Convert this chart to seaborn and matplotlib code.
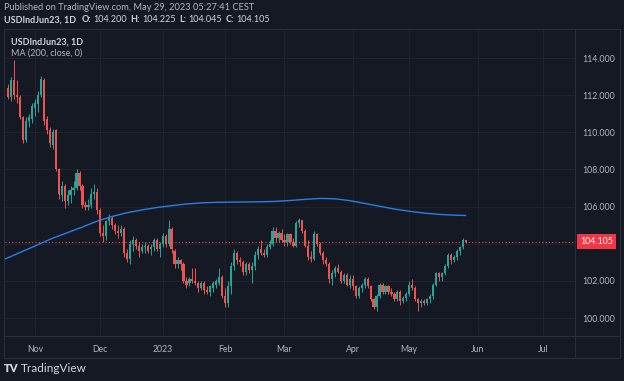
import numpy as np
import pandas as pd
import matplotlib
matplotlib.use("Agg")
import matplotlib.pyplot as plt
from matplotlib.lines import Line2D
import seaborn as sns

# USDIndJun23 daily candles, 19 Oct 2022 .. 26 May 2023
opens = [112.4, 111.9, 112.8, 112.0, 111.9, 110.8, 109.6, 110.6, 110.7, 111.3,
         111.5, 112.0, 112.8, 110.7, 110.1, 109.3, 110.1, 108.0, 106.6, 107.1,
         106.3, 106.6, 106.9, 107.0, 107.8, 107.1, 106.1, 106.0, 106.1, 106.7,
         106.8, 105.8, 104.6, 104.4, 105.2, 105.4, 105.0, 104.7, 104.6, 104.8,
         103.5, 103.2, 104.0, 104.2, 103.9, 103.6, 103.8, 103.9, 103.7, 103.8,
         104.2, 103.7, 104.0, 104.4, 104.0, 104.8, 103.6, 102.9, 103.1, 102.9,
         102.0, 101.9, 102.1, 102.0, 101.9, 101.6, 101.9, 101.5, 101.4, 101.6,
         101.8, 101.9, 102.2, 101.2, 100.8, 101.7, 102.8, 103.5, 103.1, 103.0,
         102.5, 102.9, 102.6, 102.8, 103.4, 103.7, 103.5, 103.4, 103.8, 104.0,
         104.7, 104.3, 104.6, 104.2, 104.1, 104.5, 104.1, 103.9, 105.1, 105.3,
         104.7, 103.9, 103.3, 103.2, 104.5, 104.0, 103.5, 103.1, 102.9, 102.1,
         102.4, 102.7, 102.5, 102.0, 102.3, 101.8, 102.1, 101.7, 101.2, 101.6,
         101.8, 102.1, 101.7, 101.0, 100.6, 101.2, 101.8, 101.4, 101.7, 101.4,
         101.3, 101.0, 101.4, 100.9, 101.1, 101.3, 101.8, 101.6, 101.0, 100.8,
         100.9, 100.8, 101.0, 101.2, 101.8, 102.4, 102.2, 102.4, 102.8, 103.4,
         103.1, 103.3, 103.6, 103.8, 104.2]
highs = [112.6, 113.0, 113.9, 112.8, 112.0, 110.9, 110.8, 111.0, 111.6, 111.8,
         112.2, 113.05, 112.9, 110.9, 110.3, 110.2, 110.2, 108.1, 107.4, 107.2,
         106.9, 107.1, 107.4, 108.0, 107.9, 107.2, 106.3, 106.4, 107.0, 107.2,
         107.0, 105.9, 105.0, 105.3, 105.6, 105.5, 105.1, 105.0, 105.0, 104.9,
         103.7, 104.2, 104.4, 104.3, 104.1, 104.0, 104.1, 104.0, 104.0, 104.3,
         104.3, 104.1, 104.6, 104.5, 105.3, 104.9, 103.7, 103.3, 103.2, 103.0,
         102.2, 102.2, 102.7, 102.7, 102.0, 102.0, 102.0, 101.7, 101.8, 102.0,
         102.1, 102.7, 102.3, 101.6, 102.0, 103.0, 103.7, 103.6, 103.3, 103.1,
         103.0, 103.0, 103.0, 103.6, 103.9, 104.2, 103.7, 104.0, 104.2, 104.9,
         104.9, 104.7, 104.8, 104.5, 104.6, 104.6, 104.3, 105.2, 105.4, 105.3,
         104.8, 104.2, 103.6, 104.7, 104.6, 104.1, 103.6, 103.3, 103.0, 102.6,
         102.8, 102.9, 102.6, 102.4, 102.4, 102.3, 102.3, 101.8, 101.7, 101.9,
         102.2, 102.2, 101.8, 101.1, 101.3, 101.9, 101.9, 101.8, 101.8, 101.6,
         101.4, 101.5, 101.5, 101.2, 101.4, 102.0, 102.1, 101.7, 101.1, 101.0,
         101.0, 101.1, 101.3, 101.9, 102.5, 102.5, 102.5, 102.9, 103.5, 103.5,
         103.4, 103.7, 103.9, 104.3, 104.225]
lows = [111.8, 111.7, 111.8, 111.6, 110.7, 109.4, 109.5, 110.3, 110.5, 110.9,
        111.1, 111.9, 110.4, 109.9, 109.2, 109.1, 107.9, 106.4, 106.3, 105.9,
        106.1, 106.2, 106.6, 106.9, 106.9, 105.9, 105.8, 105.8, 105.9, 106.4,
        105.6, 104.4, 104.1, 104.2, 105.0, 104.8, 104.5, 104.3, 104.4, 103.3,
        103.0, 102.9, 103.6, 103.7, 103.3, 103.5, 103.5, 103.5, 103.4, 103.6,
        103.6, 103.3, 103.8, 103.8, 103.9, 103.5, 102.7, 102.7, 102.6, 101.9,
        101.6, 101.7, 101.9, 101.8, 101.4, 101.5, 101.3, 101.3, 101.2, 101.4,
        101.6, 101.8, 101.1, 100.6, 100.6, 101.3, 102.6, 102.9, 102.8, 102.3,
        102.3, 102.4, 101.9, 102.6, 103.2, 103.4, 103.3, 103.3, 103.7, 103.9,
        104.1, 104.1, 104.1, 103.9, 103.9, 104.0, 103.8, 103.8, 104.9, 104.6,
        103.8, 103.1, 103.0, 103.1, 103.9, 103.4, 102.9, 102.8, 101.9, 101.8,
        102.2, 102.4, 101.9, 101.9, 101.7, 101.6, 101.5, 101.1, 101.1, 101.4,
        101.6, 101.6, 100.9, 100.5, 100.4, 101.1, 101.3, 101.3, 101.3, 101.2,
        100.9, 100.9, 100.7, 100.8, 100.9, 101.2, 101.5, 100.9, 100.4, 100.6,
        100.7, 100.7, 100.8, 101.0, 101.7, 102.0, 102.0, 102.3, 102.7, 102.9,
        103.0, 103.1, 103.4, 103.7, 104.045]
closes = [111.9, 112.8, 112.0, 111.9, 110.8, 109.6, 110.6, 110.8, 111.4, 111.6,
          112.0, 112.85, 110.6, 110.1, 109.4, 110.0, 108.05, 106.7, 107.1, 106.3,
          106.6, 106.9, 107.0, 107.8, 107.1, 106.1, 106.0, 106.1, 106.7, 106.8,
          105.8, 104.6, 104.4, 105.2, 105.4, 105.0, 104.7, 104.6, 104.8, 103.5,
          103.2, 104.0, 104.2, 103.9, 103.6, 103.8, 103.9, 103.6, 103.8, 104.2,
          103.7, 104.0, 104.4, 104.0, 104.8, 103.7, 102.9, 103.1, 102.9, 102.0,
          101.8, 102.1, 102.0, 101.9, 101.6, 101.9, 101.5, 101.4, 101.7, 101.9,
          102.0, 102.2, 101.2, 100.8, 101.7, 102.8, 103.5, 103.1, 103.0, 102.5,
          102.9, 102.6, 102.8, 103.4, 103.7, 103.5, 103.4, 103.8, 104.0, 104.7,
          104.3, 104.6, 104.2, 104.1, 104.5, 104.1, 103.9, 105.1, 105.3, 104.7,
          103.9, 103.3, 103.2, 104.5, 104.0, 103.5, 103.1, 102.9, 102.1, 102.4,
          102.7, 102.5, 102.0, 102.3, 101.8, 102.1, 101.7, 101.2, 101.6, 101.8,
          102.1, 101.7, 101.0, 100.6, 101.2, 101.8, 101.4, 101.7, 101.4, 101.3,
          101.0, 101.4, 100.9, 101.1, 101.3, 101.8, 101.6, 101.0, 100.8, 100.9,
          100.8, 101.0, 101.2, 101.8, 102.4, 102.2, 102.4, 102.8, 103.4, 103.1,
          103.3, 103.6, 103.8, 104.2, 104.105]

# MA(200, close) line, read at a few bars
ma_bars = [-1, 0, 5, 10, 15, 20, 25, 30, 35, 40, 45, 50, 55, 60, 65, 70, 75, 80,
           85, 90, 95, 100, 105, 110, 115, 120, 125, 130, 135, 140, 145, 150, 154]
ma_vals = [103.18, 103.25, 103.6, 103.95, 104.3, 104.6, 104.9, 105.22, 105.47,
           105.67, 105.82, 105.95, 106.05, 106.14, 106.2, 106.23, 106.24, 106.25,
           106.26, 106.28, 106.33, 106.39, 106.44, 106.42, 106.32, 106.17, 106.02,
           105.87, 105.75, 105.65, 105.58, 105.54, 105.52]

price_ticks = [100, 102, 104, 106, 108, 110, 112, 114]
last_price = 104.105
holidays = ["2022-12-26", "2023-01-02", "2023-04-07"]

bg = "#151924"
frame = "#2a2e39"
gridc = "#1f2330"
txt = "#b2b5be"
up_c = "#26a69a"
dn_c = "#ef5350"

sns.set_theme(style="dark", rc={"figure.facecolor": bg, "axes.facecolor": bg,
                                "savefig.facecolor": bg})
plt.rcParams["font.family"] = ["Lato", "DejaVu Sans"]

# trading calendar (future bars included for the axis)
days = pd.bdate_range("2022-10-19", "2023-07-31")
days = days[~days.isin(pd.to_datetime(holidays))]
month_idx = [i for i in range(1, len(days)) if days[i].month != days[i - 1].month]
month_lab = ["2023" if days[i].month == 1 else days[i].strftime("%b") for i in month_idx]

df = pd.DataFrame({"open": opens, "high": highs, "low": lows, "close": closes})
df["bar"] = np.arange(len(df))
colors = np.where(df["close"] >= df["open"], up_c, dn_c)

W, H = 624, 381
fig = plt.figure(figsize=(W / 100, H / 100), dpi=100)


def fx(x):
    return x / W


def fy(y):
    return 1 - y / H


ax = fig.add_axes([fx(5), fy(335), fx(570), 305 / H])
ax.set_xlim(-1.08, 190.8)
ax.set_ylim(99.085, 115.51)

# grid
for p in price_ticks:
    ax.axhline(p, color=gridc, lw=0.8, zorder=0)
for i in month_idx:
    ax.axvline(i, color=gridc, lw=0.8, zorder=0)

# candles
ax.vlines(df["bar"], df["low"], df["high"], colors=colors, lw=0.7, zorder=2)
ax.bar(df["bar"], (df["close"] - df["open"]).abs(),
       bottom=np.minimum(df["open"], df["close"]), width=0.75,
       color=colors, linewidth=0, zorder=3)

# moving average
sns.lineplot(x=ma_bars, y=ma_vals, ax=ax, color="#2a7ee8", lw=1.0, zorder=4)

# last price line + label
ax.axhline(last_price, color=dn_c, lw=0.8, ls=(0, (1, 2)), zorder=1)
ax.annotate(f"{last_price:.3f}", xy=(1, last_price), xycoords=ax.get_yaxis_transform(),
            xytext=(4, 0), textcoords="offset points", va="center", ha="left",
            color="white", fontsize=6.3, annotation_clip=False,
            bbox=dict(boxstyle="square,pad=0.35", fc="#f23645", ec="none"))

ax.yaxis.tick_right()
ax.set_yticks(price_ticks)
ax.set_yticklabels(["" if p == 104 else f"{p:.3f}" for p in price_ticks])
ax.set_xticks(month_idx)
ax.set_xticklabels(month_lab)
ax.tick_params(axis="y", length=0, pad=5, labelsize=6.3, colors=txt)
ax.tick_params(axis="x", length=0, pad=7, labelsize=6.3, colors=txt)
ax.grid(False)
for s in ax.spines.values():
    s.set_visible(False)

# panel frame
for (x0, y0, x1, y1) in [(4, 29, 620, 29), (4, 336, 620, 336), (4, 358, 620, 358),
                         (4, 29, 4, 358), (620, 29, 620, 358), (575, 29, 575, 358)]:
    fig.add_artist(Line2D([fx(x0), fx(x1)], [fy(y0), fy(y1)], color=frame, lw=0.8))

# header texts
fig.text(fx(4), fy(8), "Published on TradingView.com, May 29, 2023 05:27:41 CEST",
         color=txt, fontsize=6.7, va="center")

# OHLC line, pieces placed one after another
renderer = fig.canvas.get_renderer()
hdr = [("USDIndJun23, 1D", "bold", 5), ("O:", "bold", 2), ("104.200", "normal", 4),
       ("H:", "bold", 2), ("104.225", "normal", 4), ("L:", "bold", 2),
       ("104.045", "normal", 4), ("C:", "bold", 2), ("104.105", "normal", 0)]
x = 4
for s, w, gap in hdr:
    t = fig.text(fx(x), fy(20), s, color="#d1d4dc", fontsize=6.5, fontweight=w,
                 va="center")
    x = t.get_window_extent(renderer).x1 + gap

fig.text(fx(11), fy(42), "USDIndJun23, 1D", color="#d1d4dc", fontsize=6.5,
         fontweight="bold", va="center")
fig.text(fx(11), fy(53), "MA (200, close, 0)", color=txt, fontsize=6.5, va="center")

# footer logo
fig.text(fx(4), fy(369), "TV", color="#d1d4dc", fontsize=8, fontweight="heavy",
         va="center")
fig.text(fx(21), fy(369), "TradingView", color="#d1d4dc", fontsize=8.5, va="center")

fig.savefig("out.png", dpi=100)
